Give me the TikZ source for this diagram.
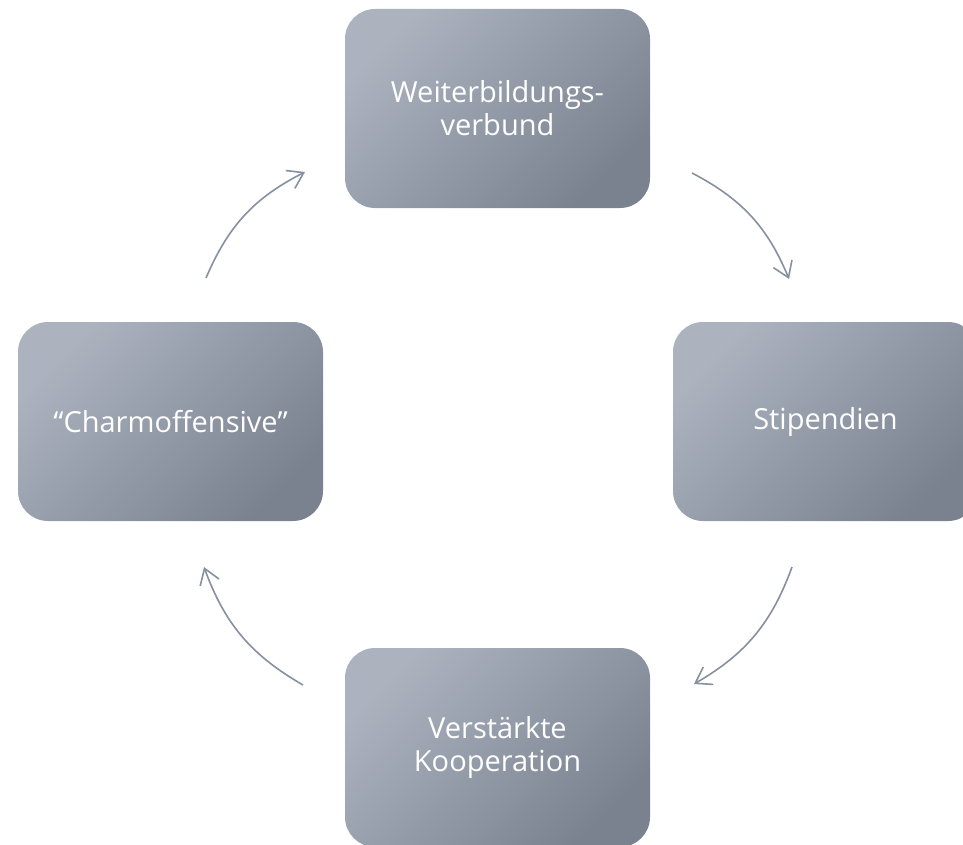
\documentclass[tikz,border=0pt]{standalone}
\usepackage{fontspec}
\setmainfont{Open Sans}
\usetikzlibrary{arrows.meta}
\definecolor{boxlight}{RGB}{172,179,191}
\definecolor{boxdark}{RGB}{122,130,144}
\definecolor{arrowgray}{RGB}{134,144,159}
\tikzset{
  cyclebox/.style={rounded corners=30pt, minimum width=305pt, minimum height=199pt,
    inner sep=0pt, top color=boxlight, bottom color=boxdark, shading angle=45,
    text=white, align=center, font=\fontsize{29}{33}\selectfont},
  cyclearrow/.style={draw=arrowgray, line width=1.6pt,
    -{Straight Barb[length=15pt,width=20pt,line width=1.6pt]}, bend left=20}
}
\begin{document}
\begin{tikzpicture}[x=1pt,y=-1pt]
\useasboundingbox (0,0) rectangle (963,845);
\node[cyclebox] (top) at (497.5,108.5) {Weiterbildungs-\\verbund};
\node[cyclebox] (right) at (825.5,421.5) {Stipendien};
\node[cyclebox] (bottom) at (497.5,747.5) {Verstärkte\\Kooperation};
\node[cyclebox] (left) at (170.5,421.5) {“Charmoffensive”};
\coordinate (a1s) at (692,173);
\coordinate (a1e) at (789,279);
\coordinate (a2s) at (792,567);
\coordinate (a2e) at (694,684);
\coordinate (a3s) at (303,685);
\coordinate (a3e) at (204,567);
\coordinate (a4s) at (206,278);
\coordinate (a4e) at (305,172);
\draw[cyclearrow] (a1s) to (a1e);
\draw[cyclearrow] (a2s) to (a2e);
\draw[cyclearrow] (a3s) to (a3e);
\draw[cyclearrow] (a4s) to (a4e);
\end{tikzpicture}
\end{document}
